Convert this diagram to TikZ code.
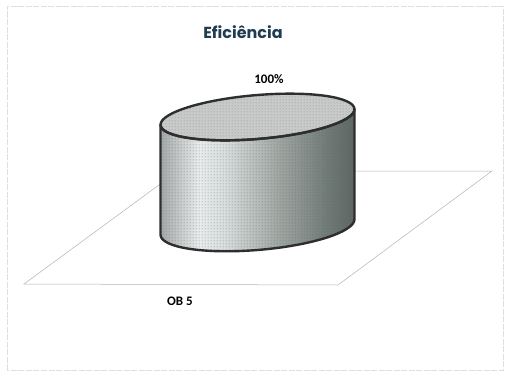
\documentclass[tikz,border=0pt]{standalone}
\usepackage{fontspec}
\setmainfont{Carlito}
\newfontfamily\titlefont{Poppins}
\usetikzlibrary{patterns,patterns.meta}
\definecolor{s0}{RGB}{165,168,168}
\definecolor{s1}{RGB}{232,236,236}
\definecolor{s2}{RGB}{214,219,219}
\definecolor{s3}{RGB}{160,168,164}
\definecolor{s4}{RGB}{112,122,118}
\definecolor{s5}{RGB}{92,102,98}
\definecolor{topc}{RGB}{200,202,202}
\definecolor{titlec}{RGB}{31,60,80}
\pgfdeclarehorizontalshading{cylside}{100bp}{color(0bp)=(s0); color(25bp)=(s0); color(35bp)=(s1); color(42bp)=(s2); color(55bp)=(s3); color(68bp)=(s4); color(75bp)=(s5); color(100bp)=(s5)}
\pgfdeclarepattern{name=bigdots, type=uncolored,
  bottom left={\pgfpointorigin}, top right={\pgfpoint{3pt}{3pt}},
  tile size={\pgfpoint{3pt}{3pt}},
  code={\pgfpathcircle{\pgfpoint{1.5pt}{1.5pt}}{0.6pt}\pgfusepath{fill}}}
\begin{document}
\begin{tikzpicture}[x=1pt,y=1pt,
  floor/.style={draw=gray!60, line width=0.5pt},
  rim/.style={draw=black!82, line width=2.4pt, line join=round},
  lbl/.style={font=\bfseries\fontsize{13}{15}\selectfont, text=black, inner sep=0pt}]
\useasboundingbox (0,0) rectangle (505,376);
\draw[gray!25, line width=0.6pt, dash pattern=on 6pt off 1.5pt] (7,6) rectangle (503,370);
\coordinate (fbl) at (24,92);
\coordinate (fbr) at (338,91);
\coordinate (ftr) at (492,205);
\coordinate (ftl) at (178,205);
\draw[floor] (fbl) -- (fbr) -- (ftr) -- (ftl) -- cycle;
\begin{scope}[shift={(257.5,0)}, yslant=0.08]
  \def\sidepath{(-97,259) -- (-97,149) arc[start angle=180, end angle=360, x radius=97, y radius=23] -- (97,259) arc[start angle=0, end angle=-180, x radius=97, y radius=22] -- cycle}
  \shade[shading=cylside] \sidepath;
  \fill[pattern=bigdots, pattern color=black!60] \sidepath;
  \fill[topc] (0,259) ellipse[x radius=97, y radius=22];
  \fill[pattern=bigdots, pattern color=black!50] (0,259) ellipse[x radius=97, y radius=22];
  \draw[rim] \sidepath;
  \draw[rim] (0,259) ellipse[x radius=97, y radius=22];
\end{scope}
\node[font=\titlefont\bfseries\fontsize{16}{19}\selectfont, text=titlec, inner sep=0pt] (title) at (243,344) {Eficiência};
\node[lbl] (val) at (269,297) {100\%};
\node[lbl] (cat) at (180,75) {OB 5};
\end{tikzpicture}
\end{document}
